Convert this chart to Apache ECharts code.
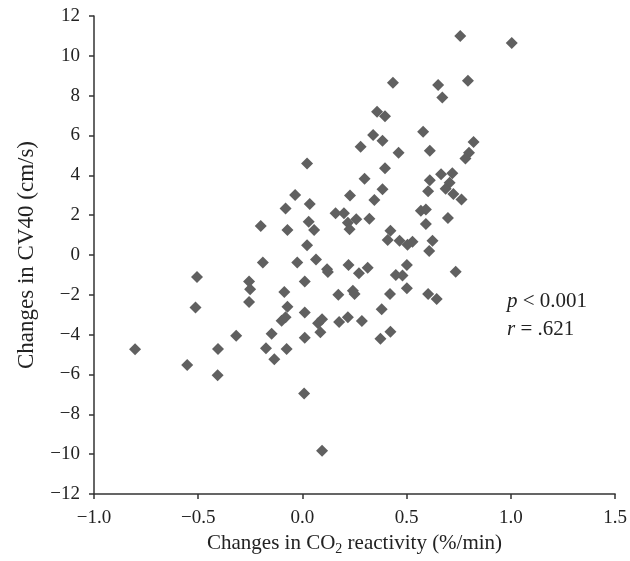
<!DOCTYPE html>
<html>
<head>
<meta charset="utf-8">
<script src="https://cdn.jsdelivr.net/npm/echarts@6/dist/echarts.min.js"></script>
<style>html,body{margin:0;padding:0;background:#fff}#c{width:630px;height:561px}</style>
</head>
<body>
<div id="c"></div>
<script>
const xValues = [0.757,1.004,0.434,0.651,0.794,0.671,0.358,0.396,0.339,0.384,0.279,0.461,0.579,0.611,0.821,0.799,0.782,0.396,0.298,0.384,0.228,0.345,0.611,0.665,0.719,0.706,0.687,0.603,0.724,0.763,0.159,0.199,0.218,0.226,0.258,0.321,0.568,0.592,0.592,0.698,0.422,0.409,0.466,0.504,0.528,0.624,0.608,0.221,0.271,0.313,0.501,0.448,0.480,0.735,0.172,0.242,0.250,0.420,0.501,0.603,0.644,0.380,0.218,0.285,0.176,0.374,0.422,
-0.035,-0.081,0.035,-0.200,-0.072,0.030,0.056,0.022,0.022,-0.190,-0.025,0.065,0.118,0.122,-0.506,-0.256,-0.251,-0.256,0.011,-0.087,-0.072,0.011,-0.513,-0.100,-0.081,-0.148,-0.318,0.011,0.075,0.094,0.086,-0.175,-0.076,-0.135,-0.405,-0.803,-0.553,-0.407,0.008,0.094];
const yValues = [11.0,10.65,8.65,8.53,8.75,7.91,7.19,6.97,6.02,5.74,5.43,5.13,6.19,5.23,5.67,5.13,4.85,4.35,3.83,3.30,2.99,2.76,3.75,4.06,4.10,3.63,3.33,3.20,3.06,2.79,2.09,2.09,1.62,1.29,1.79,1.82,2.22,2.29,1.56,1.86,1.22,0.75,0.72,0.52,0.67,0.72,0.20,-0.50,-0.92,-0.64,-0.50,-1.00,-1.03,-0.84,-1.99,-1.79,-1.96,-1.96,-1.67,-1.96,-2.21,-2.73,-3.13,-3.31,-3.37,-4.21,-3.85,
3.01,2.34,2.56,1.46,1.25,1.67,1.25,4.60,0.49,-0.38,-0.38,-0.22,-0.72,-0.85,-1.10,-1.33,-1.72,-2.36,-1.33,-1.86,-2.60,-2.89,-2.63,-3.30,-3.13,-3.96,-4.06,-4.16,-3.43,-3.23,-3.88,-4.68,-4.72,-5.23,-4.72,-4.73,-5.52,-6.04,-6.96,-9.83];
const xTickLabels = ['−1.0','−0.5','0.0','0.5','1.0','1.5'];
const yTickLabels = {12:'12',10:'10',8:'8',6:'6',4:'4',2:'2',0:'0','-2':'−2','-4':'−4','-6':'−6','-8':'−8','-10':'−10','-12':'−12'};
const statLines = ['{i|p} < 0.001', '{i|r} = .621'];

const points = xValues.map((x, i) => [x, yValues[i]]);
const serif = '"Liberation Serif", "DejaVu Serif", serif';
const chart = echarts.init(document.getElementById('c'));
chart.setOption({
  animation: false,
  grid: {left: 94, right: 12, top: 16, bottom: 67, containLabel: false},
  xAxis: {
    type: 'value', min: -1, max: 1.5, interval: 0.5,
    axisLine: {show: true, onZero: false, lineStyle: {color: '#333', width: 1.5}},
    axisTick: {show: true, length: 5, inside: false, lineStyle: {color: '#333', width: 1.5}},
    splitLine: {show: false},
    axisLabel: {
      fontFamily: serif, fontSize: 19, color: '#222', margin: 15,
      formatter: v => xTickLabels[Math.round((v + 1) / 0.5)]
    },
    name: '{n|Changes in CO}{s|2}{n| reactivity (%/min)}',
    nameLocation: 'middle', nameGap: 31,
    nameTextStyle: {
      rich: {
        n: {fontFamily: serif, fontSize: 21, color: '#222'},
        s: {fontFamily: serif, fontSize: 14, color: '#222', verticalAlign: 'bottom', padding: [11, 0, 0, 0]}
      }
    }
  },
  yAxis: {
    type: 'value', min: -12, max: 12, interval: 2,
    axisLine: {show: true, onZero: false, lineStyle: {color: '#333', width: 1.5}},
    axisTick: {show: true, length: 5, inside: false, lineStyle: {color: '#333', width: 1.5}},
    splitLine: {show: false},
    axisLabel: {
      fontFamily: serif, fontSize: 19, color: '#222', margin: 14,
      formatter: v => yTickLabels[String(Math.round(v))]
    },
    name: 'Changes in CV40 (cm/s)',
    nameLocation: 'middle', nameGap: 56,
    nameTextStyle: {fontFamily: serif, fontSize: 23, color: '#222'}
  },
  series: [{
    type: 'scatter',
    symbol: 'diamond',
    symbolSize: 12,
    itemStyle: {color: '#606060', opacity: 1},
    data: points
  }],
  graphic: [{
    type: 'text', left: 507, top: 287,
    style: {
      text: statLines.join('\n'),
      fontFamily: serif, fontSize: 21, fill: '#222', lineHeight: 28,
      rich: {i: {fontFamily: serif, fontSize: 21, fontStyle: 'italic', fill: '#222', lineHeight: 28}}
    }
  }]
});
</script>
</body>
</html>
